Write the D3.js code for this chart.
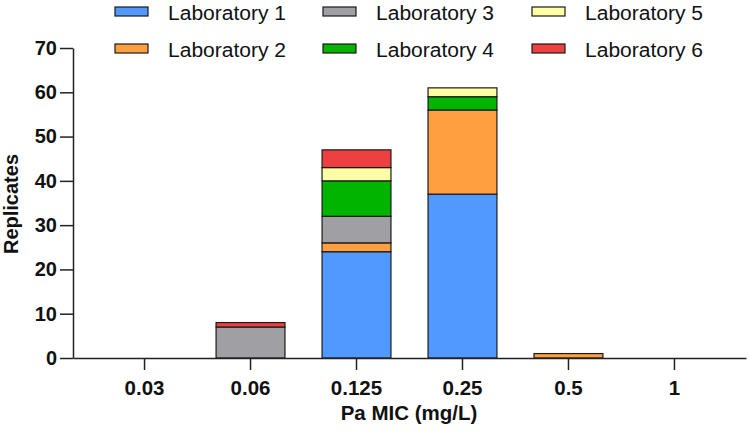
<!DOCTYPE html>
<html><head><meta charset="utf-8">
<script src="https://cdn.jsdelivr.net/npm/d3@7"></script>
<style>body{margin:0;background:#fff}svg{display:block}</style>
</head><body>
<script>
const categories = ["0.03","0.06","0.125","0.25","0.5","1"];
const labs = ["Laboratory 1","Laboratory 2","Laboratory 3","Laboratory 4","Laboratory 5","Laboratory 6"];
const lab1 = [0, 0, 24, 37, 0, 0];
const lab2 = [0, 0, 2, 19, 1, 0];
const lab3 = [0, 7, 6, 0, 0, 0];
const lab4 = [0, 0, 8, 3, 0, 0];
const lab5 = [0, 0, 3, 2, 0, 0];
const lab6 = [0, 1, 4, 0, 0, 0];
const yTicks = [0,10,20,30,40,50,60,70];
const colors = ["#5299FF","#FF9F40","#A0A0A4","#00B400","#FFFFA6","#EE4040"];

const W=750,H=435;
const svg=d3.select("body").append("svg").attr("width",W).attr("height",H);
const series=[lab1,lab2,lab3,lab4,lab5,lab6];
const rows=categories.map((c,i)=>{const o={cat:c};labs.forEach((l,j)=>o[l]=series[j][i]);return o;});
const stacked=d3.stack().keys(labs)(rows);

const x=d3.scaleBand().domain(categories).range([73,746]).paddingInner(0.35).paddingOuter(0.35);
const y=d3.scaleLinear().domain([0,70]).range([358,48]);
const FF="Liberation Sans, Arial, sans-serif";

const g=svg.append("g");
stacked.forEach((s,j)=>{
  g.selectAll(null).data(s.filter(d=>d[1]-d[0]>0)).enter().append("rect")
    .attr("x",d=>x(d.data.cat)).attr("width",x.bandwidth())
    .attr("y",d=>y(d[1])).attr("height",d=>y(d[0])-y(d[1]))
    .attr("fill",colors[j]).attr("stroke","#1a1a1a").attr("stroke-width",1.2);
});

// y axis
const ya=svg.append("g").attr("transform","translate(73,0)")
  .call(d3.axisLeft(y).tickValues(yTicks).tickSize(13).tickPadding(3).tickSizeOuter(0));
ya.select(".domain").attr("stroke","#222").attr("stroke-width",1.5);
ya.selectAll(".tick line").attr("stroke","#222").attr("stroke-width",1.5);
ya.selectAll(".tick text").attr("font-family",FF)
  .attr("font-size",20).attr("font-weight","bold").attr("fill","#111");

// x axis
const xa=svg.append("g").attr("transform","translate(0,358)")
  .call(d3.axisBottom(x).tickSize(12).tickPadding(10).tickSizeOuter(0));
xa.select(".domain").attr("stroke","#222").attr("stroke-width",1.5);
xa.selectAll(".tick line").attr("stroke","#222").attr("stroke-width",1.5);
xa.selectAll(".tick text").attr("font-family",FF)
  .attr("font-size",20.5).attr("font-weight","bold").attr("fill","#111");

// titles
svg.append("text").attr("x",409).attr("y",420).attr("text-anchor","middle")
  .attr("font-family",FF).attr("font-size",20.5).attr("font-weight","bold")
  .attr("fill","#111").text("Pa MIC (mg/L)");
svg.append("text").attr("transform","translate(18,204) rotate(-90)").attr("text-anchor","middle")
  .attr("font-family",FF).attr("font-size",20).attr("font-weight","bold")
  .attr("fill","#111").text("Replicates");

// legend
const colX=[115,323,532], rowY=[7,44];
labs.forEach((l,i)=>{
  const c=Math.floor(i/2), r=i%2;
  const lg=svg.append("g");
  lg.append("rect").attr("x",colX[c]).attr("y",rowY[r]).attr("width",33).attr("height",9)
    .attr("fill",colors[i]).attr("stroke","#1a1a1a").attr("stroke-width",1.2);
  lg.append("text").attr("x",colX[c]+53).attr("y",rowY[r]+12.5)
    .attr("font-family",FF).attr("font-size",20)
    .attr("textLength",118).attr("lengthAdjust","spacingAndGlyphs")
    .attr("fill","#111").text(l);
});
</script>
</body></html>
